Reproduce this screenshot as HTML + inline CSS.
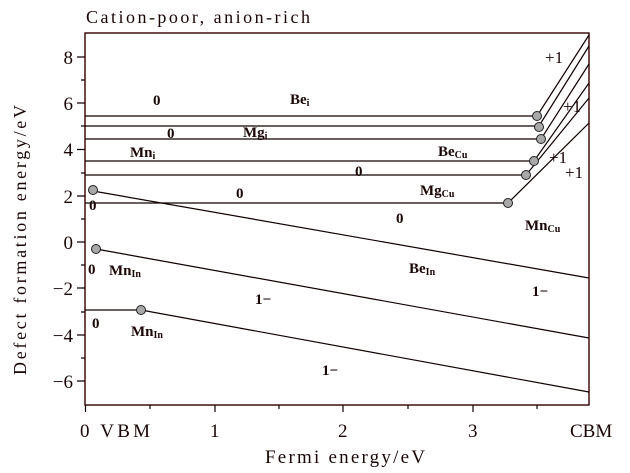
<!DOCTYPE html>
<html><head><meta charset="utf-8"><style>
html,body{margin:0;padding:0;background:#fff;}
svg{display:block;}
text{font-family:"Liberation Serif","DejaVu Serif",serif;fill:#1a0606;}
</style></head><body>
<svg width="630" height="473" viewBox="0 0 630 473" xmlns="http://www.w3.org/2000/svg">
<g stroke="#100" stroke-width="1.2" fill="none">
<rect x="85" y="33" width="504" height="372" stroke="#300" stroke-width="1.4"/>
<path d="M77 57H85M77 103H85M77 149.5H85M77 196H85M77 242H85M77 288H85M77 335H85M77 381H85"/>
<path d="M81 80H85M81 126H85M81 173H85M81 219H85M81 265H85M81 312H85M81 358H85"/>
<path d="M85.5 405V412M215 405V412M343 405V412M473 405V412"/>
<path d="M150 405V409M279 405V409M408 405V409M537 405V409"/>
<path d="M85 116H537L589 35"/>
<path d="M85 126H539L589 46"/>
<path d="M85 139H541L589 64"/>
<path d="M85 161H534L589 83"/>
<path d="M85 175H526L589 98"/>
<path d="M85 203H508L589 123"/>
<path d="M93 191L589 278"/>
<path d="M96 249L589 338"/>
<path d="M85 310H141L589 392"/>
</g>
<g fill="#a8a8a8" stroke="#222" stroke-width="1">
<circle cx="537" cy="116" r="4.5"/><circle cx="539" cy="127" r="4.5"/><circle cx="541" cy="139" r="4.5"/>
<circle cx="534" cy="161" r="4.5"/><circle cx="526" cy="175" r="4.5"/><circle cx="508" cy="203" r="4.5"/>
<circle cx="93" cy="190" r="4.5"/><circle cx="96" cy="249" r="4.5"/><circle cx="141" cy="310" r="4.5"/>
</g>
<text x="86" y="23" font-size="18" textLength="224" lengthAdjust="spacing">Cation-poor, anion-rich</text>
<g font-size="19" text-anchor="end">
<text x="73" y="64">8</text><text x="73" y="110">6</text><text x="73" y="156">4</text><text x="73" y="203">2</text>
<text x="73" y="249">0</text><text x="73" y="295">−2</text><text x="73" y="342">−4</text><text x="73" y="388">−6</text>
</g>
<g font-size="19">
<text x="80" y="437" textLength="70" lengthAdjust="spacing">0 VBM</text>
<text x="210" y="437">1</text><text x="338" y="437">2</text><text x="468" y="437">3</text>
<text x="570" y="437">CBM</text>
<text x="265" y="463" textLength="160" lengthAdjust="spacing">Fermi energy/eV</text>
</g>
<text transform="translate(26,240) rotate(-90)" font-size="18" text-anchor="middle" textLength="270" lengthAdjust="spacing">Defect formation energy/eV</text>
<g font-size="17">
<text x="545" y="63">+1</text>
<text x="563" y="112">+1</text>
<text x="549" y="163">+1</text>
<text x="565" y="178">+1</text>
</g>
<g font-size="15" font-weight="bold" fill="#1a0606">
<text x="153" y="105">0</text>
<text x="290" y="104">Be<tspan font-size="10" dy="2">i</tspan></text>
<text x="167" y="138">0</text>
<text x="243" y="137">Mg<tspan font-size="10" dy="2">i</tspan></text>
<text x="130" y="157">Mn<tspan font-size="10" dy="2">i</tspan></text>
<text x="438" y="156">Be<tspan font-size="10" dy="2">Cu</tspan></text>
<text x="355" y="176">0</text>
<text x="236" y="198">0</text>
<text x="420" y="195">Mg<tspan font-size="10" dy="2">Cu</tspan></text>
<text x="89" y="210">0</text>
<text x="396" y="223">0</text>
<text x="525" y="230">Mn<tspan font-size="10" dy="2">Cu</tspan></text>
<text x="88" y="274">0</text>
<text x="109" y="275">Mn<tspan font-size="10" dy="2">In</tspan></text>
<text x="409" y="273">Be<tspan font-size="10" dy="2">In</tspan></text>
<text x="532" y="296">1−</text>
<text x="255" y="304">1−</text>
<text x="92" y="328">0</text>
<text x="131" y="336">Mn<tspan font-size="10" dy="2">In</tspan></text>
<text x="322" y="375">1−</text>
</g>
</svg>
</body></html>
